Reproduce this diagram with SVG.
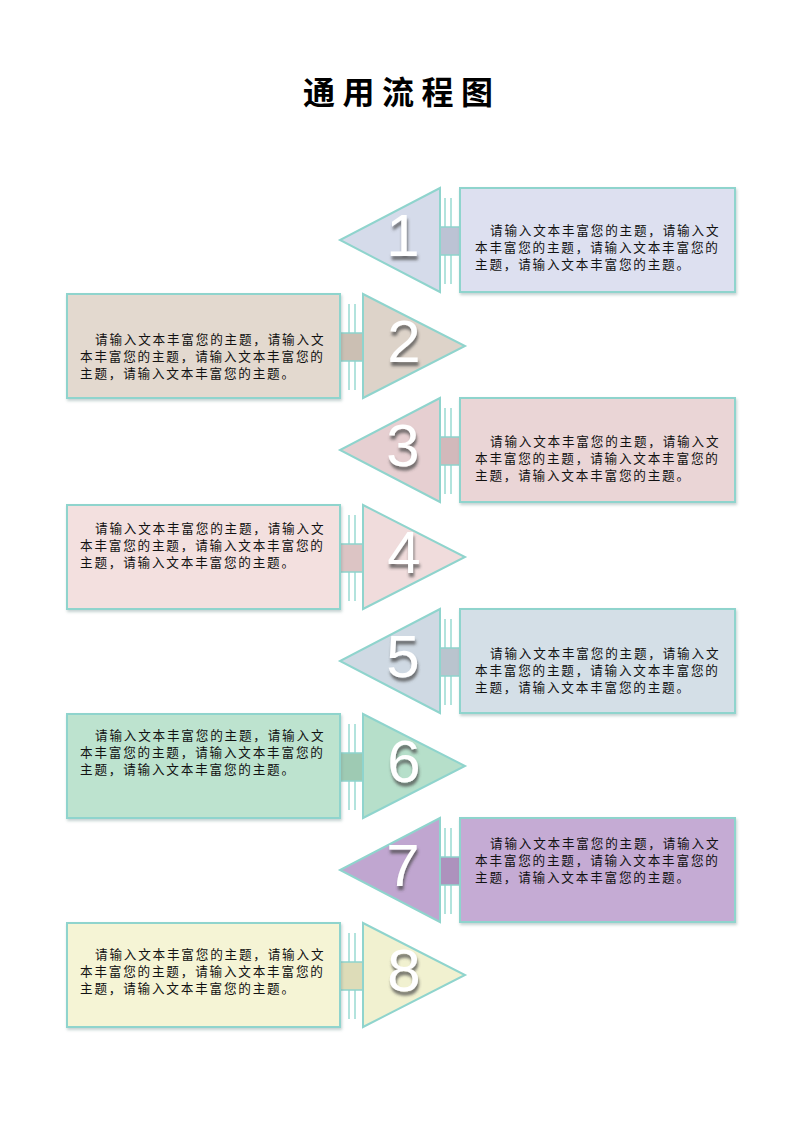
<svg xmlns="http://www.w3.org/2000/svg" width="800" height="1130" viewBox="0 0 800 1130">
<defs>
<filter id="numShadow" x="-30%" y="-30%" width="160%" height="170%">
<feDropShadow dx="1" dy="4" stdDeviation="1.5" flood-color="#4a4a4a" flood-opacity="0.75"/>
</filter>
<filter id="boxShadow" x="-5%" y="-5%" width="110%" height="115%">
<feDropShadow dx="1" dy="2" stdDeviation="1.5" flood-color="#7a9a98" flood-opacity="0.45"/>
</filter>
</defs>
<style>
.title{font-family:"Noto Sans CJK SC","Liberation Sans",sans-serif;font-size:32px;font-weight:bold;fill:#000;letter-spacing:7.5px}
.box{stroke:#8fd4cd;stroke-width:2;filter:url(#boxShadow)}
.tri{stroke:#8fd4cd;stroke-width:2}
.txt{font-family:"Noto Sans CJK SC","Liberation Sans",sans-serif;font-size:12.6px;fill:#111;letter-spacing:1.8px}
.num{font-family:"Liberation Sans",Arial,sans-serif;font-size:60px;fill:#ffffff;text-anchor:middle;filter:url(#numShadow)}
.vl{stroke:#9fdcd5;stroke-width:1.6;fill:none}
.conn{stroke:#8fd4cd;stroke-width:1.5}
</style>
<rect width="800" height="1130" fill="#ffffff"/>
<text class="title" x="303" y="104">通用流程图</text>

<g id="connectors">
<line class="vl" x1="445" y1="198" x2="445" y2="284"/><line class="vl" x1="451" y1="198" x2="451" y2="284"/>
<rect class="conn" x="437" y="227" width="23" height="28" fill="#bcc3d4"/>
<line class="vl" x1="349" y1="304" x2="349" y2="390"/><line class="vl" x1="355" y1="304" x2="355" y2="390"/>
<rect class="conn" x="340" y="333" width="24" height="28" fill="#cbbfb3"/>
<line class="vl" x1="445" y1="408" x2="445" y2="494"/><line class="vl" x1="451" y1="408" x2="451" y2="494"/>
<rect class="conn" x="437" y="437" width="23" height="28" fill="#d2b9bb"/>
<line class="vl" x1="349" y1="515" x2="349" y2="601"/><line class="vl" x1="355" y1="515" x2="355" y2="601"/>
<rect class="conn" x="340" y="544" width="24" height="28" fill="#dcc4c4"/>
<line class="vl" x1="445" y1="619" x2="445" y2="705"/><line class="vl" x1="451" y1="619" x2="451" y2="705"/>
<rect class="conn" x="437" y="648" width="23" height="28" fill="#b9c4ce"/>
<line class="vl" x1="349" y1="724" x2="349" y2="810"/><line class="vl" x1="355" y1="724" x2="355" y2="810"/>
<rect class="conn" x="340" y="753" width="24" height="28" fill="#9ecab3"/>
<line class="vl" x1="445" y1="828" x2="445" y2="914"/><line class="vl" x1="451" y1="828" x2="451" y2="914"/>
<rect class="conn" x="437" y="857" width="23" height="28" fill="#ad92bd"/>
<line class="vl" x1="349" y1="933" x2="349" y2="1019"/><line class="vl" x1="355" y1="933" x2="355" y2="1019"/>
<rect class="conn" x="340" y="962" width="24" height="28" fill="#dddcb8"/>
</g>

<g id="step1">
<polygon class="tri" points="440,188 440,292 340,240" fill="#d5dbea"/>
<rect class="box" x="460" y="188" width="275" height="104" fill="#dde0f0"/>
<text class="num" x="403" y="256">1</text>
<text class="txt"><tspan x="490" y="235">请输入文本丰富您的主题，请输入文</tspan><tspan x="475" y="252">本丰富您的主题，请输入文本丰富您的</tspan><tspan x="475" y="269">主题，请输入文本丰富您的主题。</tspan></text>
</g>

<g id="step2">
<polygon class="tri" points="363,294 363,398 465,346" fill="#ddd3c9"/>
<rect class="box" x="67" y="294" width="273" height="104" fill="#e3d9cf"/>
<text class="num" x="404" y="362">2</text>
<text class="txt"><tspan x="95" y="344">请输入文本丰富您的主题，请输入文</tspan><tspan x="80" y="361">本丰富您的主题，请输入文本丰富您的</tspan><tspan x="80" y="378">主题，请输入文本丰富您的主题。</tspan></text>
</g>

<g id="step3">
<polygon class="tri" points="440,398 440,502 340,450" fill="#e6cfd1"/>
<rect class="box" x="460" y="398" width="275" height="104" fill="#ead5d6"/>
<text class="num" x="403" y="466">3</text>
<text class="txt"><tspan x="490" y="446">请输入文本丰富您的主题，请输入文</tspan><tspan x="475" y="463">本丰富您的主题，请输入文本丰富您的</tspan><tspan x="475" y="480">主题，请输入文本丰富您的主题。</tspan></text>
</g>

<g id="step4">
<polygon class="tri" points="363,505 363,609 465,557" fill="#f0dcdc"/>
<rect class="box" x="67" y="505" width="273" height="104" fill="#f3e0df"/>
<text class="num" x="404" y="573">4</text>
<text class="txt"><tspan x="95" y="533">请输入文本丰富您的主题，请输入文</tspan><tspan x="80" y="550">本丰富您的主题，请输入文本丰富您的</tspan><tspan x="80" y="567">主题，请输入文本丰富您的主题。</tspan></text>
</g>

<g id="step5">
<polygon class="tri" points="440,609 440,713 340,661" fill="#cfd9e3"/>
<rect class="box" x="460" y="609" width="275" height="104" fill="#d4dfe7"/>
<text class="num" x="403" y="677">5</text>
<text class="txt"><tspan x="490" y="658">请输入文本丰富您的主题，请输入文</tspan><tspan x="475" y="675">本丰富您的主题，请输入文本丰富您的</tspan><tspan x="475" y="692">主题，请输入文本丰富您的主题。</tspan></text>
</g>

<g id="step6">
<polygon class="tri" points="363,714 363,818 465,766" fill="#b6dfca"/>
<rect class="box" x="67" y="714" width="273" height="104" fill="#bde3cf"/>
<text class="num" x="404" y="782">6</text>
<text class="txt"><tspan x="95" y="740">请输入文本丰富您的主题，请输入文</tspan><tspan x="80" y="757">本丰富您的主题，请输入文本丰富您的</tspan><tspan x="80" y="774">主题，请输入文本丰富您的主题。</tspan></text>
</g>

<g id="step7">
<polygon class="tri" points="440,818 440,922 340,870" fill="#c0a6d0"/>
<rect class="box" x="460" y="818" width="275" height="104" fill="#c5abd4"/>
<text class="num" x="403" y="886">7</text>
<text class="txt"><tspan x="490" y="848">请输入文本丰富您的主题，请输入文</tspan><tspan x="475" y="865">本丰富您的主题，请输入文本丰富您的</tspan><tspan x="475" y="882">主题，请输入文本丰富您的主题。</tspan></text>
</g>

<g id="step8">
<polygon class="tri" points="363,923 363,1027 465,975" fill="#f1f1d0"/>
<rect class="box" x="67" y="923" width="273" height="104" fill="#f5f4d5"/>
<text class="num" x="404" y="991">8</text>
<text class="txt"><tspan x="95" y="959">请输入文本丰富您的主题，请输入文</tspan><tspan x="80" y="976">本丰富您的主题，请输入文本丰富您的</tspan><tspan x="80" y="993">主题，请输入文本丰富您的主题。</tspan></text>
</g>
</svg>
